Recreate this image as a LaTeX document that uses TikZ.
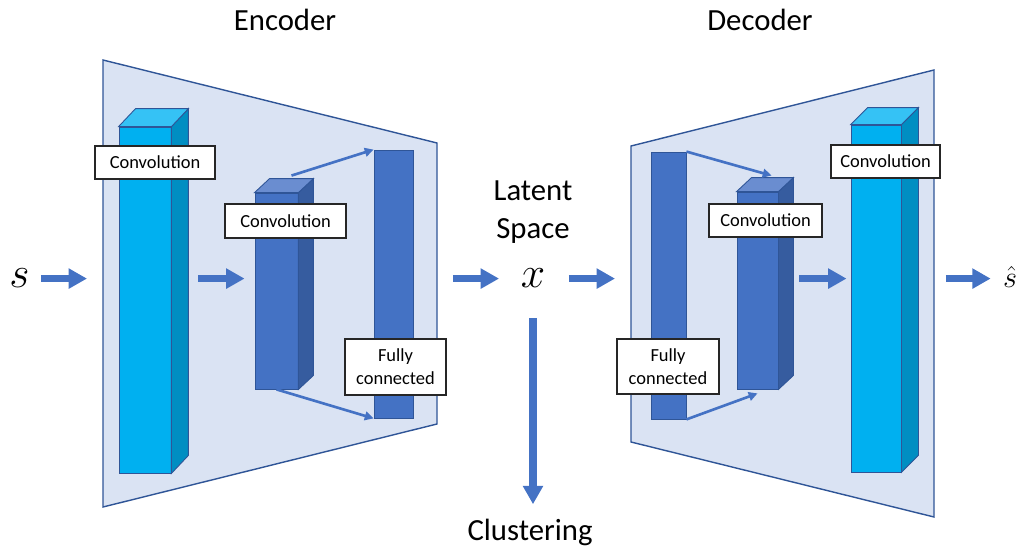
\documentclass[tikz,border=0pt]{standalone}
\usepackage{fontspec}
\setmainfont{Carlito}
\usetikzlibrary{arrows.meta}

\definecolor{panelfill}{HTML}{DAE3F3}
\definecolor{panelline}{HTML}{2F5597}
\definecolor{arrowblue}{HTML}{4472C4}
\definecolor{cyanfront}{HTML}{00B0F0}
\definecolor{cyanside}{HTML}{008EC2}
\definecolor{cyantop}{HTML}{35C2F5}
\definecolor{bluefront}{HTML}{4472C4}
\definecolor{blueside}{HTML}{365C9F}
\definecolor{bluetop}{HTML}{6A8DD0}

\tikzset{
  panel/.style={fill=panelfill,draw=panelline,line width=0.8pt},
  face/.style={draw=panelline,line width=0.5pt},
  bar/.style={face,rectangle,inner sep=0pt},
  tag/.style={draw=black!85,fill=white,line width=0.7pt,inner sep=0pt,align=center,font=\fontsize{10.5}{13}\selectfont},
  heading/.style={font=\fontsize{17.5}{21.5}\selectfont,align=center,inner sep=0pt},
  var/.style={font=\fontsize{23}{27}\selectfont,inner sep=0pt,anchor=base},
  flow/.style={draw=arrowblue,line width=4pt,-{Triangle[length=10.5pt,width=11pt]}},
  link/.style={draw=arrowblue,line width=1.5pt,-{Triangle[length=5pt,width=5pt]}},
}

% top and side faces of a block, #1 is the front face node
\newcommand{\prism}[5]{%
  \filldraw[face,fill=#5] (#1.north east) -- ++(#2,#3) -- ([shift={(#2,#3)}]#1.south east) -- (#1.south east) -- cycle;
  \filldraw[face,fill=#4] (#1.north west) -- ++(#2,#3) -- ([shift={(#2,#3)}]#1.north east) -- (#1.north east) -- cycle;
}

\begin{document}
\begin{tikzpicture}[x=0.02cm,y=-0.02cm]
\useasboundingbox (0,0) rectangle (1021,550);

% panels
\coordinate (e1) at (103,60);
\coordinate (e2) at (437,143);
\coordinate (e3) at (437,424);
\coordinate (e4) at (103,507);
\coordinate (d1) at (631,146);
\coordinate (d2) at (934,70);
\coordinate (d3) at (934,517);
\coordinate (d4) at (631,442);

\draw[panel] (e1) -- (e2) -- (e3) -- (e4) -- cycle;
\draw[panel] (d1) -- (d2) -- (d3) -- (d4) -- cycle;

\node[heading,anchor=base] (enctitle) at (285,31) {Encoder};
\node[heading,anchor=base] (dectitle) at (760,31) {Decoder};
\node[heading] (latent) at (533,212) {Latent\\Space};
\node[heading,anchor=base] (cluster) at (530,540) {Clustering};

% encoder blocks
\node[bar,fill=cyanfront,minimum width=1.04cm,minimum height=6.92cm] (encbig) at (145,300) {};
\prism{encbig}{17}{-18}{cyantop}{cyanside}
\node[bar,fill=bluefront,minimum width=0.86cm,minimum height=3.92cm] (encmid) at (276.5,291) {};
\prism{encmid}{15}{-14}{bluetop}{blueside}
\node[bar,fill=bluefront,minimum width=0.78cm,minimum height=5.36cm] (encfc) at (393.5,284) {};

% decoder blocks
\node[bar,fill=bluefront,minimum width=0.7cm,minimum height=5.34cm] (decfc) at (668.5,285.5) {};
\node[bar,fill=bluefront,minimum width=0.82cm,minimum height=3.94cm] (decmid) at (757.5,290.5) {};
\prism{decmid}{15}{-14}{bluetop}{blueside}
\node[bar,fill=cyanfront,minimum width=1.0cm,minimum height=6.94cm] (decbig) at (876,298.5) {};
\prism{decbig}{17}{-17}{cyantop}{cyanside}

\node[var] (s) at (19.5,288) {$s$};
\node[var] (x) at (533,288) {$x$};
\node[var,font=\fontsize{17}{20}\selectfont] (shat) at (1010,288) {$\hat{s}$};

% data flow
\draw[flow,shorten <=6.2pt,shorten >=9.1pt] (s.east) -- (s.east -| e1);
\draw[flow,shorten <=15.3pt,shorten >=5.7pt] (s.east -| encbig.east) -- (s.east -| encmid.west);
\draw[flow,shorten <=9.1pt,shorten >=12.2pt] (s.east -| e2) -- (x.west);
\draw[flow,shorten <=13.3pt,shorten >=9.1pt] (x.east) -- (s.east -| d1);
\draw[flow,shorten <=11.9pt,shorten >=2.3pt] (s.east -| decmid.east) -- (s.east -| decbig.west);
\draw[flow,shorten <=6.8pt,shorten >=6.8pt] (s.east -| d2) -- (s.east -| shat.west);
\draw[flow,shorten <=17pt,shorten >=8pt] (x.south) -- (x.south |- cluster.north);

\draw[link] ([shift={(15,-17)}]encmid.north) -- (encfc.north west);
\draw[link] (encmid.south) -- (encfc.south west);
\draw[link] (decfc.north east) -- ([shift={(14,-16)}]decmid.north);
\draw[link] (decfc.south east) -- ([shift={(0,4)}]decmid.south);

% layer labels
\node[tag,minimum width=2.4cm,minimum height=0.66cm] (encbigtag) at (155,162.5) {Convolution};
\node[tag,minimum width=2.42cm,minimum height=0.68cm] (encmidtag) at (285.5,221) {Convolution};
\node[tag,minimum width=2.02cm,minimum height=1.12cm] (encfctag) at (395.5,367) {Fully\\connected};
\node[tag,minimum width=2.04cm,minimum height=1.1cm] (decfctag) at (668,366.5) {Fully\\connected};
\node[tag,minimum width=2.26cm,minimum height=0.66cm] (decmidtag) at (765.5,220.5) {Convolution};
\node[tag,minimum width=2.18cm,minimum height=0.66cm] (decbigtag) at (885.5,161.5) {Convolution};

\end{tikzpicture}
\end{document}
